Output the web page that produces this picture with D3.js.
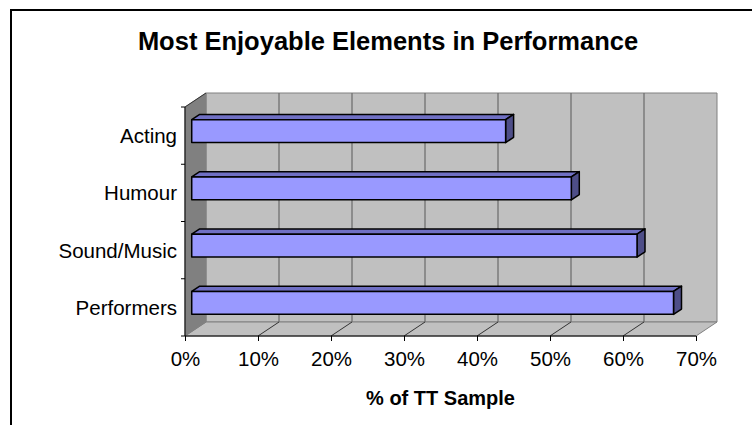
<!DOCTYPE html>
<html>
<head>
<meta charset="utf-8">
<script src="https://cdn.jsdelivr.net/npm/d3@7"></script>
<style>
  html, body { margin: 0; padding: 0; background: #fff; }
  svg { display: block; font-family: "Liberation Sans", Arial, sans-serif; }
</style>
</head>
<body>
<svg id="chart" width="752" height="425"></svg>
<script>
// Survey results: share of the TT sample naming each element
const categories = ["Acting", "Humour", "Sound/Music", "Performers"];
const values = [0.43, 0.52, 0.61, 0.66];
const xTicks = [0, 0.1, 0.2, 0.3, 0.4, 0.5, 0.6, 0.7];
const chartTitle = "Most Enjoyable Elements in Performance";
const xTitle = "% of TT Sample";

const svg = d3.select("#chart");

// Front plane of the 3-D box and its depth offset
const plotLeft = 185, plotRight = 696, plotTop = 107, plotBottom = 336;
const depth = { dx: 21, dy: -14 };
const barDepth = [0.32, 0.7]; // bar sits between these fractions of the depth

const x = d3.scaleLinear().domain([0, 0.7]).range([plotLeft, plotRight]);
const y = d3.scaleBand().domain(categories).range([plotTop, plotBottom])
  .paddingInner(0.6).paddingOuter(0.3);
const yBand = d3.scaleBand().domain(categories).range([plotTop, plotBottom]);

const wallFill = "#c0c0c0", sideFill = "#808080", gridCol = "#808080";
const labelFont = 20.5;
const poly = pts => pts.map(p => p.join(",")).join(" ");
const off = (px, py, f) => [px + depth.dx * f, py + depth.dy * f];

// Outer chart frame
svg.append("rect")
  .attr("x", 11).attr("y", 10).attr("width", 900).attr("height", 600)
  .attr("fill", "none").attr("stroke", "#000").attr("stroke-width", 2);

// Back wall
svg.append("polygon")
  .attr("points", poly([off(plotLeft, plotTop, 1), off(plotRight, plotTop, 1), off(plotRight, plotBottom, 1), off(plotLeft, plotBottom, 1)]))
  .attr("fill", wallFill).attr("stroke", gridCol).attr("stroke-width", 1);

// Floor
svg.append("polygon")
  .attr("points", poly([[plotLeft, plotBottom], [plotRight, plotBottom], off(plotRight, plotBottom, 1), off(plotLeft, plotBottom, 1)]))
  .attr("fill", wallFill).attr("stroke", gridCol).attr("stroke-width", 1);

// Left side wall
svg.append("polygon")
  .attr("points", poly([[plotLeft, plotTop], off(plotLeft, plotTop, 1), off(plotLeft, plotBottom, 1), [plotLeft, plotBottom]]))
  .attr("fill", sideFill).attr("stroke", gridCol).attr("stroke-width", 1);

// Gridlines on back wall and floor
const grid = svg.append("g").attr("fill", "none");
xTicks.slice(1, -1).forEach(t => {
  const [bx, by] = off(x(t), plotTop, 1);
  const [fx, fy] = off(x(t), plotBottom, 1);
  grid.append("line").attr("x1", bx).attr("y1", by).attr("x2", fx).attr("y2", fy)
    .attr("stroke", "#707070").attr("stroke-width", 1.3);
  grid.append("line").attr("x1", x(t)).attr("y1", plotBottom).attr("x2", fx).attr("y2", fy)
    .attr("stroke", "#333").attr("stroke-width", 1);
});

// Side wall top edge and axis lines
const sideTop = off(plotLeft, plotTop, 1);
svg.append("line")
  .attr("x1", plotLeft).attr("y1", plotTop).attr("x2", sideTop[0]).attr("y2", sideTop[1])
  .attr("stroke", "#333").attr("stroke-width", 1);
svg.append("line")
  .attr("x1", plotLeft).attr("y1", plotTop).attr("x2", plotLeft).attr("y2", plotBottom)
  .attr("stroke", "#000").attr("stroke-width", 1);
svg.append("line")
  .attr("x1", plotLeft).attr("y1", plotBottom).attr("x2", plotRight).attr("y2", plotBottom)
  .attr("stroke", "#000").attr("stroke-width", 1);

// Category tick marks at band boundaries
const bounds = categories.map(c => yBand(c)).concat([plotBottom]);
svg.append("g").selectAll("line").data(bounds).join("line")
  .attr("x1", plotLeft - 4).attr("x2", plotLeft).attr("y1", d => d).attr("y2", d => d)
  .attr("stroke", "#000").attr("stroke-width", 1);

// Bars: top face, end face, front face
const bars = svg.append("g").selectAll("g").data(categories).join("g");
const f0 = barDepth[0], f1 = barDepth[1];
bars.each(function (c, i) {
  const g = d3.select(this);
  const v = values[i];
  const y0 = y(c), y1 = y(c) + y.bandwidth();
  const A = off(x(0), y0, f0), B = off(x(v), y0, f0), C = off(x(v), y1, f0), D = off(x(0), y1, f0);
  const A2 = off(x(0), y0, f1), B2 = off(x(v), y0, f1), C2 = off(x(v), y1, f1);
  g.append("polygon").attr("points", poly([A, B, B2, A2]))
    .attr("fill", "#7070c4").attr("stroke", "#000").attr("stroke-width", 1.5).attr("stroke-linejoin", "round");
  g.append("polygon").attr("points", poly([B, B2, C2, C]))
    .attr("fill", "#4e4e88").attr("stroke", "#000").attr("stroke-width", 1.5).attr("stroke-linejoin", "round");
  g.append("polygon").attr("points", poly([A, B, C, D]))
    .attr("fill", "#9999ff").attr("stroke", "#000").attr("stroke-width", 1.5).attr("stroke-linejoin", "round");
});

// Bottom axis: ticks and percentage labels
const xAxis = svg.append("g").attr("transform", `translate(0,${plotBottom})`)
  .call(d3.axisBottom(x).tickValues(xTicks).tickFormat(d3.format(".0%")).tickSize(5).tickSizeOuter(0));
xAxis.select(".domain").remove();
xAxis.selectAll(".tick line").attr("stroke", "#000");
xAxis.selectAll(".tick text")
  .attr("y", 30).attr("dy", 0)
  .attr("fill", "#000").attr("font-size", labelFont)
  .attr("font-family", "'Liberation Sans', Arial, sans-serif");

// Left axis: category labels
const yAxis = svg.append("g").attr("transform", `translate(${plotLeft},0)`)
  .call(d3.axisLeft(yBand).tickSize(0).tickPadding(8));
yAxis.select(".domain").remove();
yAxis.selectAll(".tick text")
  .attr("dy", "0.36em")
  .attr("fill", "#000").attr("font-size", labelFont)
  .attr("font-family", "'Liberation Sans', Arial, sans-serif");

// Titles
svg.append("text")
  .attr("x", 388).attr("y", 50).attr("text-anchor", "middle")
  .attr("font-size", 25.5).attr("font-weight", "bold").attr("fill", "#000")
  .text(chartTitle);
svg.append("text")
  .attr("x", (plotLeft + plotRight) / 2).attr("y", 405).attr("text-anchor", "middle")
  .attr("font-size", 20).attr("font-weight", "bold").attr("fill", "#000")
  .text(xTitle);
</script>
</body>
</html>
